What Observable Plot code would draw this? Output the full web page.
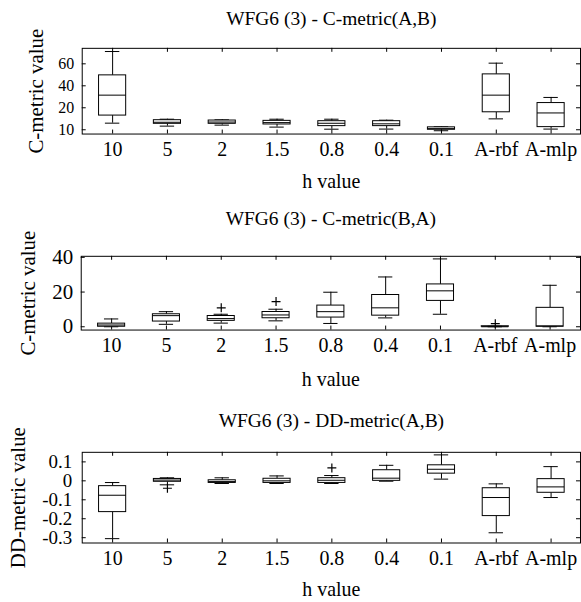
<!DOCTYPE html>
<html><head><meta charset="utf-8">
<script src="https://cdn.jsdelivr.net/npm/d3@7"></script>
<script src="https://cdn.jsdelivr.net/npm/@observablehq/plot@0.6"></script>
<style>
html,body{margin:0;padding:0;background:#fff;width:581px;height:602px;overflow:hidden;}
#root{position:relative;width:581px;height:602px;overflow:hidden;}
#root svg{position:absolute;left:0;}
#root svg, #root svg text{font-family:'Liberation Serif','Times New Roman',serif !important;}
</style></head><body><div id="root"></div>
<script>
const categories = ["10", "5", "2", "1.5", "0.8", "0.4", "0.1", "A-rbf", "A-mlp"];
const xLabel = "h value";

// Panel 1
const title1 = "WFG6 (3) - C-metric(A,B)";
const yLabel1 = "C-metric value";
const yDomain1 = [-3.9, 74.1];
const yTicks1 = [0, 20, 40, 60];
const yTickLabels1 = ["10", "20", "40", "60"];
const low1    = [6.0, 3.3, 4.2, 2.4, 0.5, 0.6, -0.9, 9.9, 0.6];
const q1_1    = [12.9, 5.4, 5.4, 4.8, 3.3, 3.3, 0.0, 15.9, 2.4];
const median1 = [31.5, 6.8, 7.0, 6.5, 5.9, 5.4, 1.0, 31.5, 15.3];
const q3_1    = [49.5, 8.7, 8.4, 8.1, 7.8, 7.8, 2.2, 50.4, 24.3];
const high1   = [71.2, 9.6, 9.0, 9.6, 9.6, 8.7, 2.7, 60.6, 29.4];
const outlierCats1 = [];
const outlierValues1 = [];

// Panel 2
const title2 = "WFG6 (3) - C-metric(B,A)";
const yLabel2 = "C-metric value";
const yDomain2 = [-1.9, 40.6];
const yTicks2 = [0, 20, 40];
const yTickLabels2 = ["0", "20", "40"];
const low2    = [0.0, 1.4, 2.1, 3.4, 1.9, 5.1, 7.2, 0.0, 0.0];
const q1_2    = [0.0, 3.0, 3.4, 4.9, 5.3, 6.4, 14.9, 0.0, 0.0];
const median2 = [1.0, 6.4, 4.7, 6.8, 8.7, 10.9, 20.7, 0.0, 0.5];
const q3_2    = [1.8, 7.2, 6.2, 8.5, 12.2, 18.3, 24.4, 0.3, 10.9];
const high2   = [4.5, 8.7, 7.2, 10.1, 19.9, 28.7, 39.1, 0.3, 23.9];
const outlierCats2 = ["2", "1.5", "A-rbf"];
const outlierValues2 = [10.9, 14.5, 1.8];

// Panel 3
const title3 = "WFG6 (3) - DD-metric(A,B)";
const yLabel3 = "DD-metric value";
const yDomain3 = [-0.328, 0.1505];
const yTicks3 = [-0.3, -0.2, -0.1, 0, 0.1];
const yTickLabels3 = ["-0.3", "-0.2", "-0.1", "0", "0.1"];
const low3    = [-0.305, -0.021, -0.014, -0.014, -0.014, -0.002, 0.009, -0.274, -0.088];
const q1_3    = [-0.165, -0.005, -0.011, -0.011, -0.011, 0.000, 0.038, -0.186, -0.063];
const median3 = [-0.076, 0.004, -0.004, 0.000, 0.003, 0.014, 0.061, -0.088, -0.032];
const q3_3    = [-0.028, 0.010, 0.003, 0.011, 0.014, 0.056, 0.082, -0.039, 0.009];
const high3   = [-0.009, 0.016, 0.016, 0.026, 0.028, 0.082, 0.137, -0.016, 0.075];
const outlierCats3 = ["5", "0.8"];
const outlierValues3 = [-0.039, 0.068];

const FONT = "'Liberation Serif', 'Times New Roman', serif";

function panel(cfg) {
  const W = 583, mr = 1;
  const {top, height, marginTop, marginBottom, marginLeft} = cfg;
  const frameH = height - marginTop - marginBottom;
  const frameW = W - marginLeft - mr;
  const bw = frameW / categories.length;
  const rows = categories.map((c, i) => ({
    cat: c, lo: cfg.low[i], q1: cfg.q1[i], med: cfg.median[i], q3: cfg.q3[i], hi: cfg.high[i]
  }));
  const outliers = cfg.outCats.map((c, i) => ({cat: c, v: cfg.outVals[i]}));
  const boxInset = bw * 0.25;
  const capInset = (bw - 15) / 2;
  const svg = Plot.plot({
    width: W, height, marginTop, marginBottom, marginLeft, marginRight: mr,
    style: {fontFamily: FONT, fontSize: "19px", color: "#000", background: "transparent", overflow: "visible"},
    x: {type: "band", domain: categories, padding: 0},
    y: {domain: cfg.domain},
    marks: [
      Plot.axisX({tickSize: 0, tickPadding: 8, label: null, fontSize: 20}),
      Plot.axisY({ticks: cfg.ticks, tickFormat: d => cfg.tickLabels[cfg.ticks.indexOf(d)], tickSize: 0, tickPadding: cfg.tickPad, label: null, fontSize: cfg.tickFont}),
      Plot.tickX(categories, {x: d => d, insetTop: frameH - 4}),
      Plot.tickX(categories, {x: d => d, insetBottom: frameH - 4}),
      Plot.tickY(cfg.ticks, {y: d => d, insetRight: frameW - 4}),
      Plot.tickY(cfg.ticks, {y: d => d, insetLeft: frameW - 4}),
      Plot.ruleX(rows, {x: "cat", y1: "lo", y2: "q1", stroke: "#000"}),
      Plot.ruleX(rows, {x: "cat", y1: "q3", y2: "hi", stroke: "#000"}),
      Plot.tickY(rows, {x: "cat", y: "lo", insetLeft: capInset, insetRight: capInset, stroke: "#000"}),
      Plot.tickY(rows, {x: "cat", y: "hi", insetLeft: capInset, insetRight: capInset, stroke: "#000"}),
      Plot.barY(rows, {x: "cat", y1: "q1", y2: "q3", fill: "#fff", stroke: "#000", insetLeft: boxInset, insetRight: boxInset}),
      Plot.tickY(rows, {x: "cat", y: "med", insetLeft: boxInset, insetRight: boxInset, stroke: "#000"}),
      Plot.dot(outliers, {x: "cat", y: "v", symbol: "plus", r: 3, stroke: "#000", strokeWidth: 1.2}),
      Plot.frame({stroke: "#000"}),
      Plot.text([cfg.title], {frameAnchor: "top", dy: cfg.titleDy, lineAnchor: "middle", fontSize: 19.5}),
      Plot.text([xLabel], {frameAnchor: "bottom", dy: cfg.xLabelDy, lineAnchor: "middle", fontSize: 20}),
      Plot.text([cfg.yLabel], {frameAnchor: "left", dx: cfg.yLabelX - marginLeft, rotate: -90, lineAnchor: "middle", textAnchor: "middle", fontSize: 21})
    ]
  });
  svg.style.top = top + "px";
  document.getElementById("root").appendChild(svg);
}

panel({top: 0, height: 200, marginTop: 48, marginBottom: 66, marginLeft: 82,
  domain: yDomain1, ticks: yTicks1, tickLabels: yTickLabels1, tickFont: 16, tickPad: 8,
  low: low1, q1: q1_1, median: median1, q3: q3_1, high: high1,
  outCats: outlierCats1, outVals: outlierValues1,
  title: title1, titleDy: -29.5, xLabelDy: 48, yLabel: yLabel1, yLabelX: 36});

panel({top: 200, height: 200, marginTop: 56, marginBottom: 70, marginLeft: 81,
  domain: yDomain2, ticks: yTicks2, tickLabels: yTickLabels2, tickFont: 21, tickPad: 8,
  low: low2, q1: q1_2, median: median2, q3: q3_2, high: high2,
  outCats: outlierCats2, outVals: outlierValues2,
  title: title2, titleDy: -37.5, xLabelDy: 49.5, yLabel: yLabel2, yLabelX: 28});

panel({top: 400, height: 202, marginTop: 52, marginBottom: 59, marginLeft: 82,
  domain: yDomain3, ticks: yTicks3, tickLabels: yTickLabels3, tickFont: 19, tickPad: 10,
  low: low3, q1: q1_3, median: median3, q3: q3_3, high: high3,
  outCats: outlierCats3, outVals: outlierValues3,
  title: title3, titleDy: -32, xLabelDy: 47, yLabel: yLabel3, yLabelX: 18});
</script>
</body></html>
